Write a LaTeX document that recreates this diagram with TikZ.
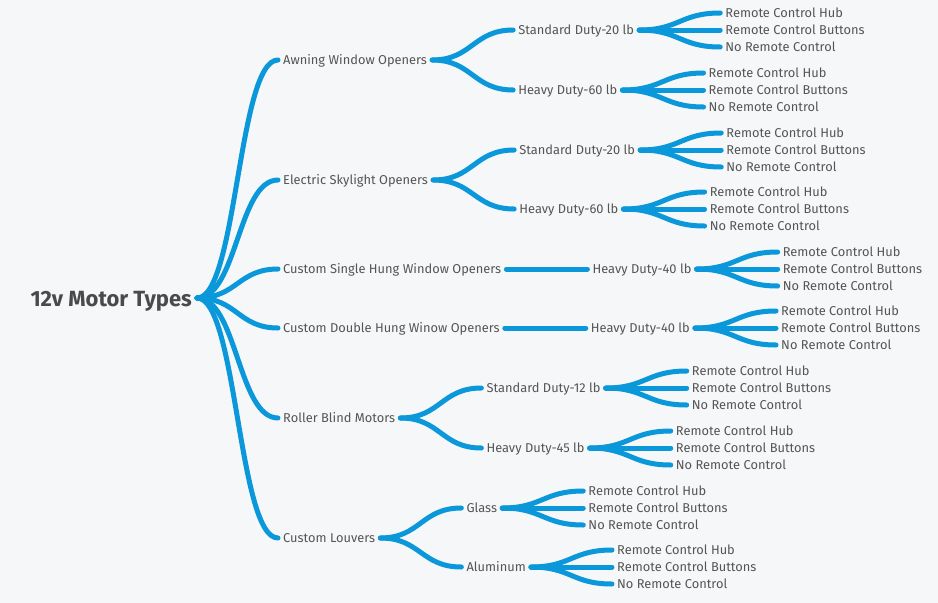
\documentclass[tikz,border=0pt]{standalone}
\usepackage{fontspec}
\setmainfont{Fira Sans}
\definecolor{bgc}{HTML}{F5F7F8}
\definecolor{linec}{HTML}{0A98DA}
\definecolor{txtc}{HTML}{555555}
\definecolor{rootc}{HTML}{4A4A4A}
\tikzset{
  lbl/.style={anchor=west, inner xsep=5pt, inner ysep=0pt, text height=9pt, text depth=0pt,
    font=\fontsize{12.85}{15}\selectfont, text=txtc},
  rootlbl/.style={anchor=east, inner xsep=5pt, inner ysep=0pt, text height=16pt, text depth=0pt,
    font=\fontsize{22}{26}\selectfont\bfseries, text=rootc},
  branch/.style={draw=linec, line width=5pt, line cap=round},
}
\newcommand\conn[2]{\draw[branch] (#1.east) .. controls +(40,0) and +(-40,0) .. (#2.west);}
\newcommand\mkleaves[1]{%
  \node[lbl] (#1h) at ([shift={(81,-17)}]#1.east) {Remote Control Hub};
  \node[lbl] (#1b) at ([shift={(81,0)}]#1.east) {Remote Control Buttons};
  \node[lbl] (#1n) at ([shift={(81,17)}]#1.east) {No Remote Control};
  \conn{#1}{#1h}\conn{#1}{#1b}\conn{#1}{#1n}}
\begin{document}
\begin{tikzpicture}[x=1pt,y=-1pt]
\fill[bgc] (0,0) rectangle (938,603);
\useasboundingbox (0,0) rectangle (938,603);
\node[rootlbl] (root) at (197,298) {12v Motor Types};
% level 1
\node[lbl] (aw) at (278,60) {Awning Window Openers};
\node[lbl] (sk) at (278,180) {Electric Skylight Openers};
\node[lbl] (sh) at (278,269) {Custom Single Hung Window Openers};
\node[lbl] (dh) at (278,328) {Custom Double Hung Winow Openers};
\node[lbl] (rb) at (278,418) {Roller Blind Motors};
\node[lbl] (cl) at (278,538) {Custom Louvers};
\foreach \n in {aw,sk,sh,dh,rb,cl}{\conn{root}{\n}}
% level 2
\node[lbl] (aws) at ([shift={(81,-30)}]aw.east) {Standard Duty-20 lb};
\node[lbl] (awh) at ([shift={(81,30)}]aw.east) {Heavy Duty-60 lb};
\node[lbl] (sks) at ([shift={(81,-30)}]sk.east) {Standard Duty-20 lb};
\node[lbl] (skh) at ([shift={(81,29)}]sk.east) {Heavy Duty-60 lb};
\node[lbl] (shh) at ([shift={(81,0)}]sh.east) {Heavy Duty-40 lb};
\node[lbl] (dhh) at ([shift={(81,0)}]dh.east) {Heavy Duty-40 lb};
\node[lbl] (rbs) at ([shift={(81,-30)}]rb.east) {Standard Duty-12 lb};
\node[lbl] (rbh) at ([shift={(81,30)}]rb.east) {Heavy Duty-45 lb};
\node[lbl] (clg) at ([shift={(81,-30)}]cl.east) {Glass};
\node[lbl] (cla) at ([shift={(81,29)}]cl.east) {Aluminum};
\conn{aw}{aws}\conn{aw}{awh}
\conn{sk}{sks}\conn{sk}{skh}
\conn{sh}{shh}\conn{dh}{dhh}
\conn{rb}{rbs}\conn{rb}{rbh}
\conn{cl}{clg}\conn{cl}{cla}
% leaves
\mkleaves{aws}\mkleaves{awh}
\mkleaves{sks}\mkleaves{skh}
\mkleaves{shh}\mkleaves{dhh}
\mkleaves{rbs}\mkleaves{rbh}
\mkleaves{clg}\mkleaves{cla}
\end{tikzpicture}
\end{document}
